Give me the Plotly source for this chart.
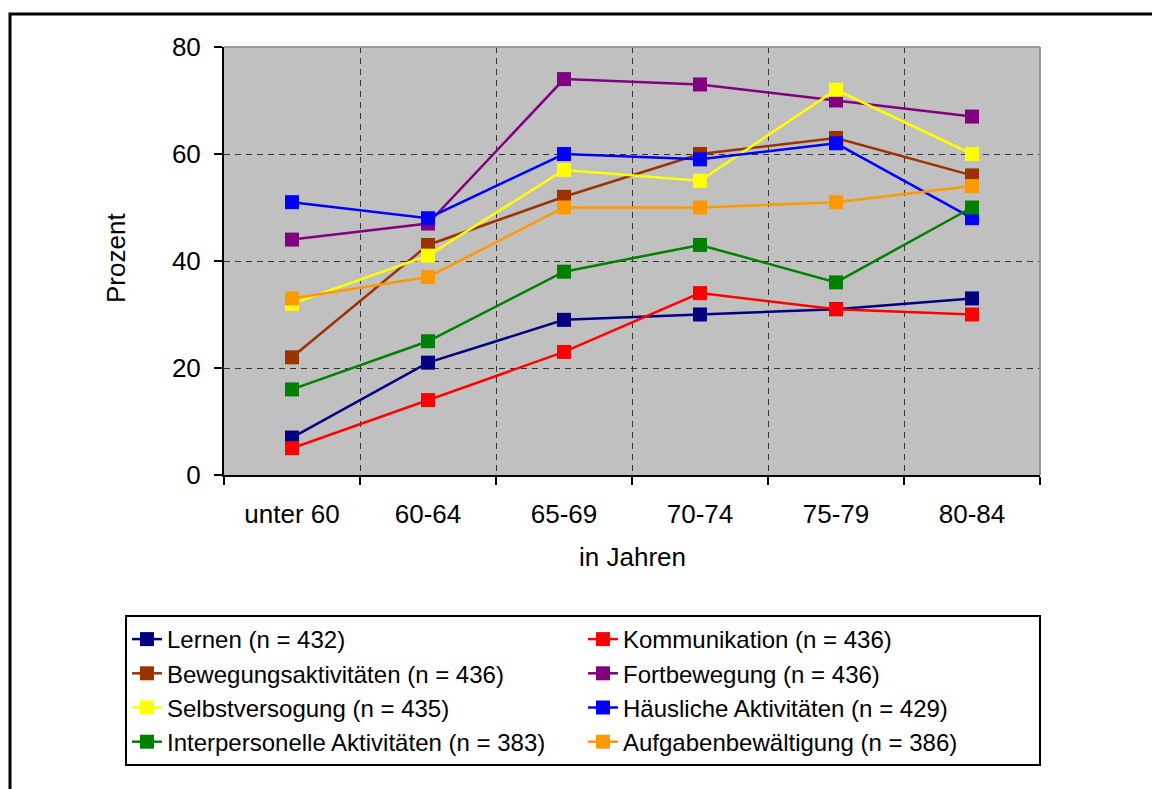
import plotly.graph_objects as go

categories = ["unter 60", "60-64", "65-69", "70-74", "75-79", "80-84"]

lernen = [7, 21, 29, 30, 31, 33]
kommunikation = [5, 14, 23, 34, 31, 30]
bewegung = [22, 43, 52, 60, 63, 56]
fortbewegung = [44, 47, 74, 73, 70, 67]
selbstversorgung = [32, 41, 57, 55, 72, 60]
haeuslich = [51, 48, 60, 59, 62, 48]
interpersonell = [16, 25, 38, 43, 36, 50]
aufgaben = [33, 37, 50, 50, 51, 54]

series = [
    ("Lernen (n = 432)", lernen, "#000080"),
    ("Kommunikation (n = 436)", kommunikation, "#FF0000"),
    ("Bewegungsaktivitäten (n = 436)", bewegung, "#993300"),
    ("Fortbewegung (n = 436)", fortbewegung, "#800080"),
    ("Selbstversogung (n = 435)", selbstversorgung, "#FFFF00"),
    ("Häusliche Aktivitäten (n = 429)", haeuslich, "#0000FF"),
    ("Interpersonelle Aktivitäten (n = 383)", interpersonell, "#008000"),
    ("Aufgabenbewältigung (n = 386)", aufgaben, "#FF9900"),
]

W, H = 1152, 789
L, R, T, B = 224, 1040, 47, 475
pw, ph = R - L, B - T

def px(x):
    return (x - L) / pw

def py(y):
    return (B - y) / ph

fig = go.Figure()
for name, vals, col in series:
    fig.add_trace(go.Scatter(
        x=categories, y=vals, name=name, mode="lines+markers",
        line=dict(color=col, width=2.5),
        marker=dict(symbol="square", size=14, color=col, line=dict(width=0)),
    ))

font = "Liberation Sans, Arial, sans-serif"
fig.update_layout(
    width=W, height=H,
    margin=dict(l=L, r=W - R, t=T, b=H - B),
    paper_bgcolor="white",
    plot_bgcolor="#C0C0C0",
    font=dict(family=font, size=26, color="black"),
    showlegend=True,
    legend=dict(
        orientation="h",
        x=px(125), y=py(615), xanchor="left", yanchor="top",
        bordercolor="black", borderwidth=2, bgcolor="white",
        entrywidth=411, entrywidthmode="pixels",
        font=dict(family=font, size=24, color="black"),
        traceorder="normal",
    ),
    xaxis=dict(
        type="category", range=[-0.5, 5.5], tickson="boundaries",
        ticks="outside", ticklen=8, tickwidth=2, tickcolor="black",
        showline=True, linecolor="black", linewidth=2,
        showgrid=True, gridcolor="#333333", griddash="6px,5px", gridwidth=1,
        tickfont=dict(size=26), ticklabelstandoff=15, fixedrange=True,
    ),
    yaxis=dict(
        range=[0, 80], dtick=20, tick0=0,
        ticks="outside", ticklen=8, tickwidth=2, tickcolor="black",
        showline=True, linecolor="black", linewidth=2,
        showgrid=True, gridcolor="#333333", griddash="6px,5px", gridwidth=1,
        zeroline=False, tickfont=dict(size=26), ticklabelstandoff=8,
        fixedrange=True,
    ),
    annotations=[
        dict(text="Prozent", x=px(116), y=py(258), xref="paper", yref="paper",
             textangle=-90, showarrow=False, font=dict(size=26),
             xanchor="center", yanchor="middle"),
        dict(text="in Jahren", x=px(632), y=py(557), xref="paper", yref="paper",
             showarrow=False, font=dict(size=26),
             xanchor="center", yanchor="middle"),
    ],
    shapes=[
        dict(type="line", xref="paper", yref="paper", x0=0, x1=1, y0=1, y1=1,
             line=dict(color="#999999", width=2)),
        dict(type="line", xref="paper", yref="paper", x0=1, x1=1, y0=0, y1=1,
             line=dict(color="#999999", width=2)),
        dict(type="rect", xref="paper", yref="paper",
             x0=px(10), x1=px(1200), y0=py(14), y1=py(850),
             line=dict(color="black", width=3)),
    ],
)

fig.write_html("out.html")
